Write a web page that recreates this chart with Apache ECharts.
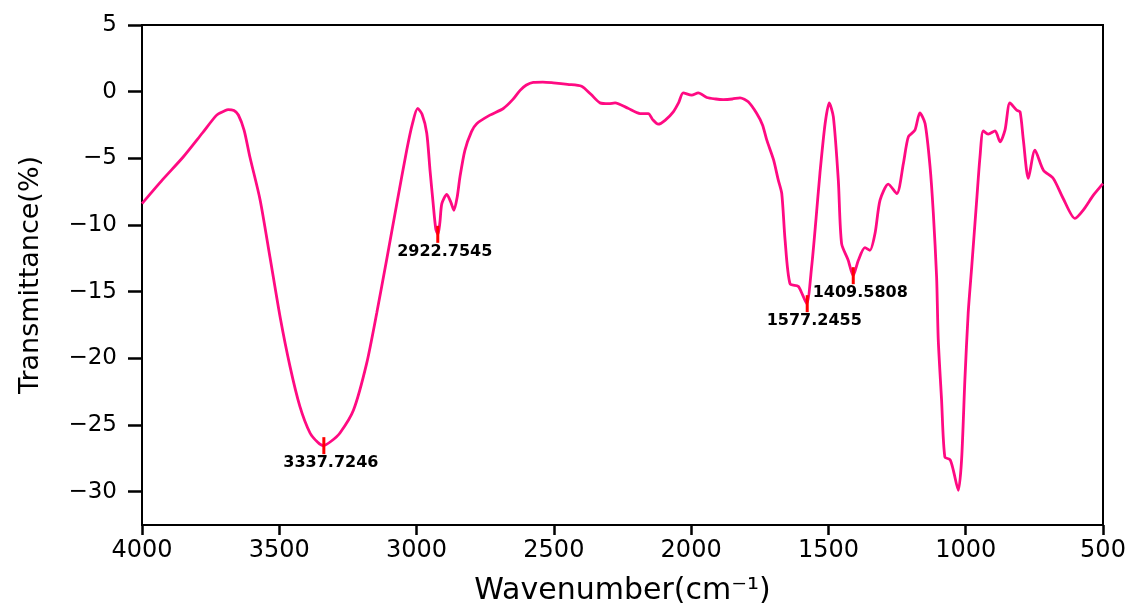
<!DOCTYPE html>
<html>
<head>
<meta charset="utf-8">
<script src="https://cdn.jsdelivr.net/npm/echarts@6/dist/echarts.min.js"></script>
<style>
html, body { margin: 0; padding: 0; background: #fff; }
#chart { width: 1134px; height: 605px; }
</style>
</head>
<body>
<div id="chart"></div>
<script>
// wavenumber (cm-1) and transmittance
var wavenumber = [4000, 3925, 3850, 3780, 3728, 3700, 3686, 3665, 3649, 3628, 3607, 3570, 3534, 3497, 3461, 3425, 3388, 3360, 3340, 3310, 3279, 3230, 3182, 3145, 3109, 3072, 3036, 3015, 2996, 2980, 2963, 2951, 2940, 2930, 2922, 2915, 2908, 2890, 2875, 2864, 2852, 2842, 2824, 2800, 2781, 2733, 2684, 2650, 2623, 2600, 2575, 2540, 2502, 2450, 2399, 2365, 2332, 2300, 2277, 2230, 2186, 2156, 2140, 2120, 2095, 2065, 2045, 2029, 1998, 1974, 1943, 1910, 1883, 1850, 1822, 1792, 1761, 1740, 1725, 1700, 1683, 1670, 1658, 1640, 1610, 1595, 1579, 1561, 1545, 1531, 1512, 1497, 1482, 1464, 1452, 1428, 1410, 1391, 1367, 1349, 1330, 1312, 1282, 1251, 1227, 1209, 1185, 1167, 1148, 1130, 1118, 1106, 1100, 1088, 1076, 1057, 1045, 1027, 1015, 1003, 991, 978, 960, 948, 936, 918, 893, 875, 857, 839, 814, 802, 790, 772, 748, 717, 681, 645, 602, 572, 535, 505, 500];
var transmittance = [-8.4, -6.6, -4.9, -3.1, -1.76, -1.45, -1.34, -1.42, -1.75, -2.9, -4.9, -8.1, -12.4, -16.9, -20.6, -23.6, -25.6, -26.3, -26.55, -26.2, -25.6, -23.9, -20.4, -16.6, -12.6, -8.4, -4.4, -2.4, -1.26, -1.7, -3.1, -5.9, -8.3, -10.3, -10.7, -9.8, -8.4, -7.7, -8.3, -8.9, -7.9, -6.4, -4.4, -3.0, -2.4, -1.76, -1.26, -0.6, 0.1, 0.5, 0.7, 0.72, 0.66, 0.55, 0.41, -0.2, -0.84, -0.9, -0.84, -1.25, -1.64, -1.64, -2.1, -2.44, -2.15, -1.51, -0.8, -0.09, -0.26, -0.09, -0.44, -0.55, -0.59, -0.55, -0.46, -0.76, -1.64, -2.5, -3.6, -5.1, -6.6, -7.64, -11.1, -14.4, -14.6, -15.2, -15.9, -13.1, -9.5, -6.14, -2.39, -0.84, -1.89, -6.64, -11.4, -12.64, -13.8, -12.64, -11.7, -11.9, -10.6, -8.14, -6.94, -7.64, -5.39, -3.39, -2.89, -1.59, -2.39, -5.6, -9.1, -13.9, -18.6, -23.1, -27.4, -27.6, -28.4, -29.9, -27.6, -21.6, -16.6, -13.1, -8.14, -4.89, -2.94, -3.19, -2.94, -3.76, -2.89, -0.84, -1.39, -1.51, -3.64, -6.5, -4.39, -5.89, -6.51, -8.01, -9.51, -8.89, -7.76, -7.01, -6.9];

// labelled peaks
var peakNames = ['3337.7246', '2922.7545', '1577.2455', '1409.5808'];
var peakX = [3337.7246, 2922.7545, 1577.2455, 1409.5808];
var peakY = [-26.55, -10.7, -15.9, -13.8];

var yTicks = [5, 0, -5, -10, -15, -20, -25, -30];

var points = [];
for (var i = 0; i < wavenumber.length; i++) {
    points.push([wavenumber[i], transmittance[i]]);
}
var marks = [];
for (var j = 0; j < peakX.length; j++) {
    marks.push({ name: peakNames[j], coord: [peakX[j], peakY[j]] });
}

var chart = echarts.init(document.getElementById('chart'));
chart.setOption({
    animation: false,
    backgroundColor: '#fff',
    grid: {
        left: 142, right: 31, top: 25, bottom: 80,
        outerBoundsMode: 'none',
        show: true, borderColor: '#000', borderWidth: 2
    },
    xAxis: {
        type: 'value',
        inverse: true,
        min: 500,
        max: 4000,
        interval: 500,
        name: 'Wavenumber(cm\u207B\u00B9)',
        nameLocation: 'middle',
        nameGap: 51,
        nameTextStyle: { fontFamily: 'DejaVu Sans', fontSize: 30, color: '#000' },
        splitLine: { show: false },
        axisLine: { show: true, onZero: false, lineStyle: { color: '#000', width: 2 } },
        axisTick: { show: true, inside: false, length: 10, lineStyle: { color: '#000', width: 2.5 } },
        axisLabel: {
            margin: 14,
            fontFamily: 'DejaVu Sans',
            fontSize: 24,
            color: '#000',
            formatter: function (v) { return String(v); }
        }
    },
    yAxis: {
        type: 'value',
        min: -32.5,
        max: 5,
        name: 'Transmittance(%)',
        nameLocation: 'middle',
        nameGap: 98,
        nameTextStyle: { fontFamily: 'DejaVu Sans', fontSize: 27, color: '#000' },
        splitLine: { show: false },
        axisLine: { show: true, onZero: false, lineStyle: { color: '#000', width: 2 } },
        axisTick: { show: true, inside: false, length: 14, customValues: yTicks, lineStyle: { color: '#000', width: 2.5 } },
        axisLabel: {
            margin: 25,
            customValues: yTicks,
            fontFamily: 'DejaVu Sans',
            fontSize: 23,
            color: '#000',
            formatter: function (v) { return String(v).replace('-', '\u2212'); }
        }
    },
    series: [{
        type: 'line',
        data: points,
        smooth: 0.25,
        showSymbol: false,
        lineStyle: { color: '#ff0a82', width: 2.8 },
        markPoint: {
            symbol: 'rect',
            symbolSize: [3, 17],
            itemStyle: { color: '#ff0000' },
            label: {
                show: true,
                position: 'bottom',
                distance: 1,
                offset: [7, 0],
                formatter: '{b}',
                fontFamily: 'DejaVu Sans',
                fontWeight: 'bold',
                fontSize: 16,
                color: '#000'
            },
            data: marks
        }
    }]
});
</script>
</body>
</html>
